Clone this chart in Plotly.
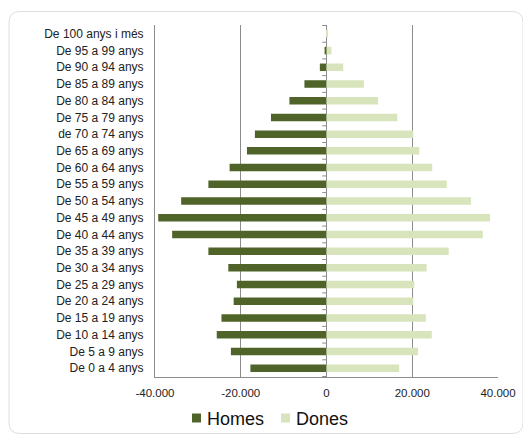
import plotly.graph_objects as go

# Age groups, bottom (youngest) to top (oldest)
age_groups = [
    "De 0 a 4 anys", "De 5 a 9 anys", "De 10 a 14 anys", "De 15 a 19 anys",
    "De 20 a 24 anys", "De 25 a 29 anys", "De 30 a 34 anys", "De 35 a 39 anys",
    "De 40 a 44 anys", "De 45 a 49 anys", "De 50 a 54 anys", "De 55 a 59 anys",
    "De 60 a 64 anys", "De 65 a 69 anys", "de 70 a 74 anys", "De 75 a 79 anys",
    "De 80 a 84 anys", "De 85 a 89 anys", "De 90 a 94 anys", "De 95 a 99 anys",
    "De 100 anys i més",
]

homes = [
    17750, 22300, 25600, 24500, 21650, 20900, 22900, 27550, 36000, 39250, 33900,
    27550, 22600, 18550, 16700, 12950, 8650, 5150, 1550, 450, 100,
]

dones = [
    16950, 21350, 24550, 23150, 20250, 20450, 23350, 28500, 36450, 38150, 33700,
    28050, 24650, 21650, 20250, 16500, 12050, 8700, 3900, 1150, 250,
]

series_names = ["Homes", "Dones"]

tick_vals = [-40000, -20000, 0, 20000, 40000]
tick_labels = ["-40.000", "-20.000", "0", "20.000", "40.000"]

dark = "#506429"
light = "#d7e4bc"
colors = [dark, light]

fig = go.Figure()
fig.add_trace(go.Bar(
    y=age_groups, x=[-v for v in homes], name=series_names[0], orientation="h",
    marker=dict(color=dark, line=dict(width=0)),
))
fig.add_trace(go.Bar(
    y=age_groups, x=dones, name=series_names[1], orientation="h",
    marker=dict(color=light, line=dict(width=0)),
))

# plot area: x 155..498 px, y 25..377 px  (343 x 352)
L, T, W, H = 155, 25, 343, 352


def px_x(p):
    return (p - L) / W


def px_y(p):
    return (T + H - p) / H


x0, x1, y0, y1 = px_x(9), px_x(523), px_y(11.5), px_y(433.5)
rx, ry = 11 / W, 11 / H
border_path = (
    f"M {x0 + rx},{y0} L {x1 - rx},{y0} Q {x1},{y0} {x1},{y0 - ry} "
    f"L {x1},{y1 + ry} Q {x1},{y1} {x1 - rx},{y1} "
    f"L {x0 + rx},{y1} Q {x0},{y1} {x0},{y1 + ry} "
    f"L {x0},{y0 - ry} Q {x0},{y0} {x0 + rx},{y0} Z"
)

shapes = [
    dict(type="path", xref="paper", yref="paper", path=border_path,
         line=dict(color="#dedede", width=1), fillcolor="rgba(0,0,0,0)", layer="below"),
]
# tick marks on the category axis at zero, at category boundaries
for i in range(len(age_groups) + 1):
    shapes.append(dict(type="line", xref="x", yref="y",
                       x0=-1000, x1=0, y0=i - 0.5, y1=i - 0.5,
                       line=dict(color="#8c8c8c", width=1)))

# custom legend (square swatch + text), below the plot
legend_left_px = [192, 281]
annotations = []
for name, col, lx in zip(series_names, colors, legend_left_px):
    shapes.append(dict(type="rect", xref="paper", yref="paper",
                       xsizemode="pixel", ysizemode="pixel",
                       xanchor=px_x(lx), yanchor=px_y(418),
                       x0=0, x1=9, y0=-4.5, y1=4.5,
                       line=dict(width=0), fillcolor=col))
    annotations.append(dict(xref="paper", yref="paper", x=px_x(lx + 13), y=px_y(418.5),
                            xanchor="left", yanchor="middle", showarrow=False,
                            text=name, font=dict(size=18, color="#111")))

fig.update_layout(
    width=523, height=436,
    margin=dict(l=L, r=523 - L - W, t=T, b=436 - T - H, autoexpand=False),
    paper_bgcolor="white", plot_bgcolor="white",
    barmode="relative", bargap=0.55,
    font=dict(family="Liberation Sans, Arial, sans-serif", size=11, color="#222"),
    showlegend=False,
    shapes=shapes,
    annotations=annotations,
)

fig.update_xaxes(
    range=[-40000, 40000], tickvals=tick_vals, ticktext=tick_labels,
    showgrid=True, gridcolor="#8c8c8c", gridwidth=1,
    zeroline=True, zerolinecolor="#8c8c8c", zerolinewidth=1,
    showline=True, linecolor="#8c8c8c", linewidth=1,
    ticks="", tickfont=dict(size=11.5, color="#222"),
    ticklabelstandoff=5,
)
fig.update_yaxes(
    type="category", categoryorder="array", categoryarray=age_groups,
    showline=True, linecolor="#8c8c8c", linewidth=1, mirror=False,
    ticks="", showgrid=False, tickfont=dict(size=12, color="#222"),
    ticklabelstandoff=8,
)

fig.write_html(
    "out.html",
    config={"displayModeBar": False},
    post_script="document.body.style.margin='0';document.body.style.overflow='hidden';",
)
